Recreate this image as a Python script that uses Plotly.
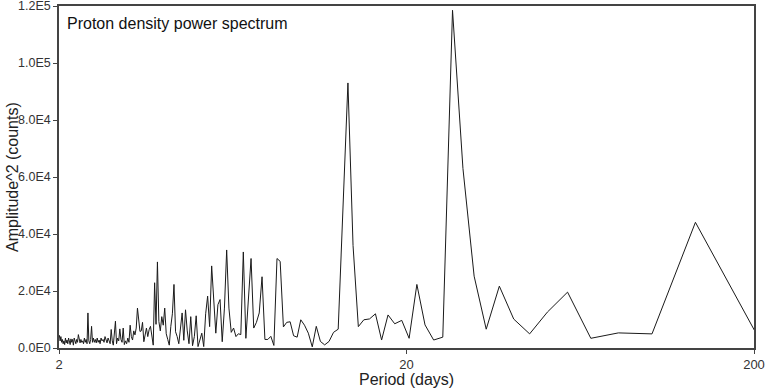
import plotly.graph_objects as go

# Spectrum harmonics k (period = record length / k)
record_days = 407
harmonic = list(range(2, 204))

power = [
    # k = 2 .. 11
    4800, 44100, 4950, 5300, 3400, 19600, 12600, 4950, 10150, 21700,
    # k = 12 .. 21
    6600, 25200, 63000, 118500, 3800, 2800, 8100, 22300, 3400, 9700,
    # k = 22 .. 31
    8500, 11600, 2800, 12000, 10200, 9900, 7500, 36000, 93000, 48000,
    # k = 32 .. 41
    6600, 5500, 2300, 1100, 2300, 7600, 400, 5200, 8000, 9900,
    # k = 42 .. 51
    3800, 4300, 9200, 9000, 7400, 30400, 31400, 900, 4100, 3000,
    # k = 52 .. 61
    3000, 25000, 12300, 9000, 7000, 31400, 17000, 3400, 33700, 4700,
    # k = 62 .. 71
    5000, 4000, 7000, 5500, 14000, 34400, 14000, 2200, 17000, 15200,
    # k = 72 .. 81
    5200, 16000, 28800, 7500, 18200, 12000, 500, 5200, 2500, 500,
    # k = 82 .. 91
    11300, 4000, 800, 11000, 1500, 6000, 13400, 2700, 12300, 6400,
    # k = 92 .. 101
    1500, 4000, 5700, 22300, 12000, 7600, 1000, 3000, 5000, 14000,
    # k = 102 .. 111
    8000, 11000, 6000, 9300, 30200, 8300, 22900, 1000, 5000, 7600,
    # k = 112 .. 121
    6400, 4000, 7000, 4000, 2200, 9000, 6000, 5800, 9000, 14000,
    # k = 122 .. 131
    7000, 4600, 6000, 2800, 4000, 8000, 2000, 3500, 1500, 2500,
    # k = 132 .. 141
    1200, 7000, 2000, 3000, 6700, 2500, 3500, 1500, 9400, 3000,
    # k = 142 .. 151
    1000, 2500, 6500, 1500, 2500, 3500, 1800, 3000, 4000, 2000,
    # k = 152 .. 161
    3000, 2500, 3500, 1500, 2800, 2000, 3500, 1800, 3000, 2000,
    # k = 162 .. 171
    3500, 2000, 7600, 3000, 1500, 2500, 12300, 1500, 3000, 2000,
    # k = 172 .. 181
    3500, 1500, 2500, 2000, 3000, 1800, 2800, 4700, 2000, 3000,
    # k = 182 .. 191
    1500, 2500, 3500, 1000, 3000, 2000, 3200, 1200, 2500, 3500,
    # k = 192 .. 203
    1500, 2800, 1800, 3500, 1200, 2500, 1500, 3000, 2000, 4000, 2500, 4500,
]

periods = [record_days / k for k in harmonic]

x_tick_vals = [2, 20, 200]
x_tick_text = ["2", "20", "200"]
y_tick_vals = [0, 20000, 40000, 60000, 80000, 100000, 120000]
y_tick_text = ["0.0E0", "2.0E4", "4.0E4", "6.0E4", "8.0E4", "1.0E5", "1.2E5"]

FONT = "Liberation Sans, Arial, sans-serif"

fig = go.Figure()
fig.add_trace(go.Scatter(
    x=periods, y=power, mode="lines",
    line=dict(color="#1a1a1a", width=1),
    hoverinfo="x+y", showlegend=False,
))

fig.update_layout(
    width=767, height=388,
    margin=dict(l=59, r=13, t=6, b=40),
    paper_bgcolor="white", plot_bgcolor="white",
    font=dict(family=FONT, size=12, color="#333333"),
    xaxis=dict(
        type="log", range=[0.30103, 2.30103], automargin=False,
        ticklabeloverflow="allow",
        tickvals=x_tick_vals, ticktext=x_tick_text,
        ticks="outside", ticklen=4, tickcolor="#444",
        showgrid=False, zeroline=False,
        showline=True, linecolor="#444", linewidth=1.5, mirror=True,
        tickfont=dict(size=13, color="#333"),
    ),
    yaxis=dict(
        range=[0, 120000], automargin=False,
        ticklabeloverflow="allow",
        tickvals=y_tick_vals, ticktext=y_tick_text,
        ticks="outside", ticklen=4, tickcolor="#444",
        showgrid=False, zeroline=False,
        showline=True, linecolor="#444", linewidth=1.5, mirror=True,
        tickfont=dict(size=12.5, color="#333"),
    ),
    annotations=[
        dict(text="Proton density power spectrum", xref="paper", yref="paper",
             x=0, y=1, xanchor="left", yanchor="top", xshift=6, yshift=-7,
             showarrow=False, font=dict(family=FONT, size=16, color="#111")),
        dict(text="Period (days)", xref="paper", yref="paper",
             x=0.5, y=0, xanchor="center", yanchor="middle", yshift=-31,
             showarrow=False, font=dict(family=FONT, size=16, color="#222")),
        dict(text="Amplitude^2 (counts)", xref="paper", yref="paper",
             x=0, y=0.5, xanchor="center", yanchor="middle", xshift=-47,
             textangle=-90, showarrow=False,
             font=dict(family=FONT, size=16, color="#222")),
    ],
)

fig.write_html(
    "out.html",
    config={"displayModeBar": False},
    post_script="document.body.style.margin='0';document.body.style.padding='0';",
)
